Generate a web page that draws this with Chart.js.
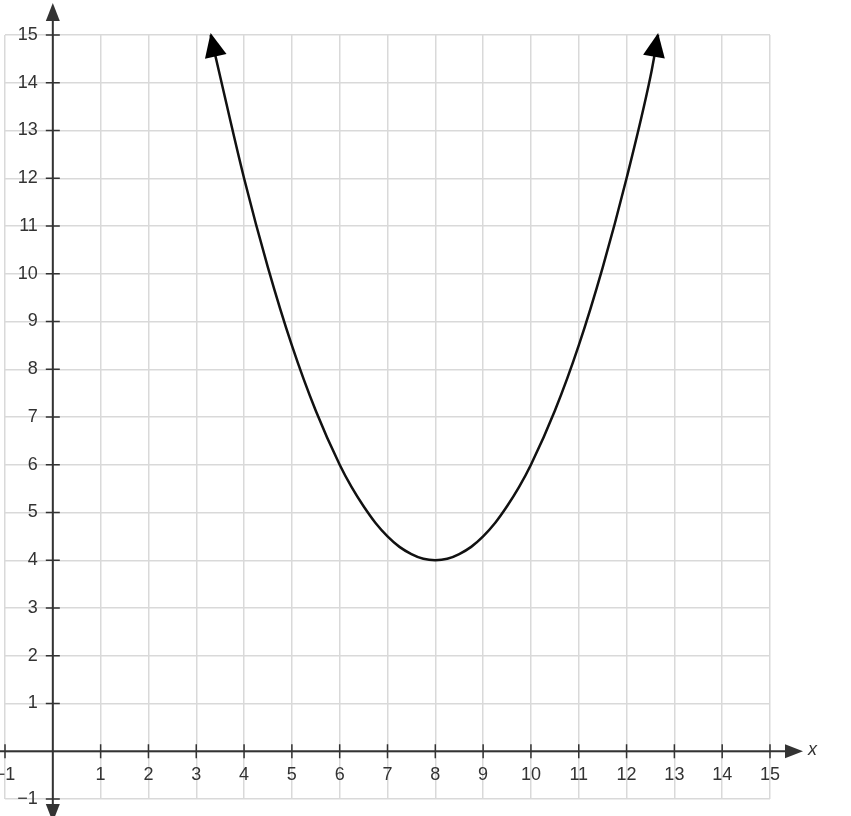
<!DOCTYPE html>
<html>
<head>
<meta charset="utf-8">
<script src="https://cdn.jsdelivr.net/npm/chart.js@4"></script>
<style>
  html, body { margin: 0; padding: 0; background: #fff; }
  #wrap { width: 851px; height: 816px; }
</style>
</head>
<body>
<div id="wrap"><canvas id="graph"></canvas></div>
<script>
// points
const curveX = [3.3, 3.5, 4, 4.5, 5, 5.5, 6, 6.25, 6.5, 6.75, 7, 7.25, 7.5, 7.75, 8, 8.25, 8.5, 8.75, 9, 9.25, 9.5, 9.75, 10, 10.5, 11, 11.5, 12, 12.5, 12.66];
const curveY = [15, 14.13, 12, 10.13, 8.5, 7.13, 6, 5.53, 5.13, 4.78, 4.5, 4.28, 4.13, 4.03, 4, 4.03, 4.13, 4.28, 4.5, 4.78, 5.13, 5.53, 6, 7.13, 8.5, 10.13, 12, 14.13, 15];

const xTicks = [-1, 1, 2, 3, 4, 5, 6, 7, 8, 9, 10, 11, 12, 13, 14, 15];
const yTicks = [-1, 1, 2, 3, 4, 5, 6, 7, 8, 9, 10, 11, 12, 13, 14, 15];
const xMin = -1, xMax = 15, yMin = -1, yMax = 15;

const points = curveX.map((x, i) => ({ x: x, y: curveY[i] }));

function fmt(v) { return v < 0 ? '\u2212' + Math.abs(v) : String(v); }

function arrow(ctx, tipX, tipY, fromX, fromY, len, half) {
  const a = Math.atan2(tipY - fromY, tipX - fromX);
  ctx.beginPath();
  ctx.moveTo(tipX, tipY);
  ctx.lineTo(tipX - len * Math.cos(a) + half * Math.sin(a), tipY - len * Math.sin(a) - half * Math.cos(a));
  ctx.lineTo(tipX - len * Math.cos(a) - half * Math.sin(a), tipY - len * Math.sin(a) + half * Math.cos(a));
  ctx.closePath();
  ctx.fill();
}

const axesPlugin = {
  id: 'axes',
  afterDraw(chart) {
    const ctx = chart.ctx;
    const xs = chart.scales.x, ys = chart.scales.y;
    const x0 = xs.getPixelForValue(0), y0 = ys.getPixelForValue(0);
    ctx.save();
    ctx.strokeStyle = '#333';
    ctx.fillStyle = '#333';
    ctx.lineWidth = 2;
    // axis lines
    ctx.beginPath();
    ctx.moveTo(0, y0); ctx.lineTo(795, y0);
    ctx.moveTo(x0, 816); ctx.lineTo(x0, 12);
    ctx.stroke();
    arrow(ctx, 803, y0, 770, y0, 18, 7);
    arrow(ctx, x0, 3, x0, 40, 18, 7);
    arrow(ctx, x0, 822, x0, 790, 18, 7);
    // tick marks
    ctx.lineWidth = 1.5;
    ctx.beginPath();
    xTicks.forEach(v => { const p = xs.getPixelForValue(v); ctx.moveTo(p, y0 - 7); ctx.lineTo(p, y0 + 7); });
    yTicks.forEach(v => { const p = ys.getPixelForValue(v); ctx.moveTo(x0 - 7, p); ctx.lineTo(x0 + 7, p); });
    ctx.stroke();
    // labels
    ctx.font = '18px "Liberation Sans", Arial, sans-serif';
    ctx.textAlign = 'center';
    ctx.textBaseline = 'top';
    xTicks.forEach(v => ctx.fillText(fmt(v), xs.getPixelForValue(v), y0 + 15));
    ctx.textAlign = 'right';
    ctx.textBaseline = 'middle';
    yTicks.forEach(v => ctx.fillText(fmt(v), x0 - 15, ys.getPixelForValue(v)));
    ctx.font = 'italic 18px "Liberation Sans", Arial, sans-serif';
    ctx.textAlign = 'left';
    ctx.fillText('x', 808, y0 - 1);
    // curve arrowheads
    const meta = chart.getDatasetMeta(0).data;
    const n = meta.length;
    ctx.fillStyle = '#000';
    arrow(ctx, meta[0].x, meta[0].y - 2, meta[1].x, meta[1].y, 24, 11);
    arrow(ctx, meta[n - 1].x, meta[n - 1].y - 2, meta[n - 2].x, meta[n - 2].y, 24, 11);
    ctx.restore();
  }
};

new Chart(document.getElementById('graph'), {
  type: 'scatter',
  data: {
    datasets: [{
      data: points,
      showLine: true,
      borderColor: '#111',
      borderWidth: 2.5,
      pointRadius: 0,
      cubicInterpolationMode: 'monotone',
      clip: false
    }]
  },
  options: {
    responsive: true,
    maintainAspectRatio: false,
    animation: false,
    layout: { padding: { left: 5, right: 81, top: 35, bottom: 17 } },
    plugins: { legend: { display: false }, tooltip: { enabled: false } },
    scales: {
      x: {
        type: 'linear', min: xMin, max: xMax,
        ticks: { display: false, stepSize: 1 },
        grid: { color: '#d9d9d9', lineWidth: 1.5, drawTicks: false },
        border: { display: false }
      },
      y: {
        type: 'linear', min: yMin, max: yMax,
        ticks: { display: false, stepSize: 1 },
        grid: { color: '#d9d9d9', lineWidth: 1.5, drawTicks: false },
        border: { display: false }
      }
    }
  },
  plugins: [axesPlugin]
});
</script>
</body>
</html>
